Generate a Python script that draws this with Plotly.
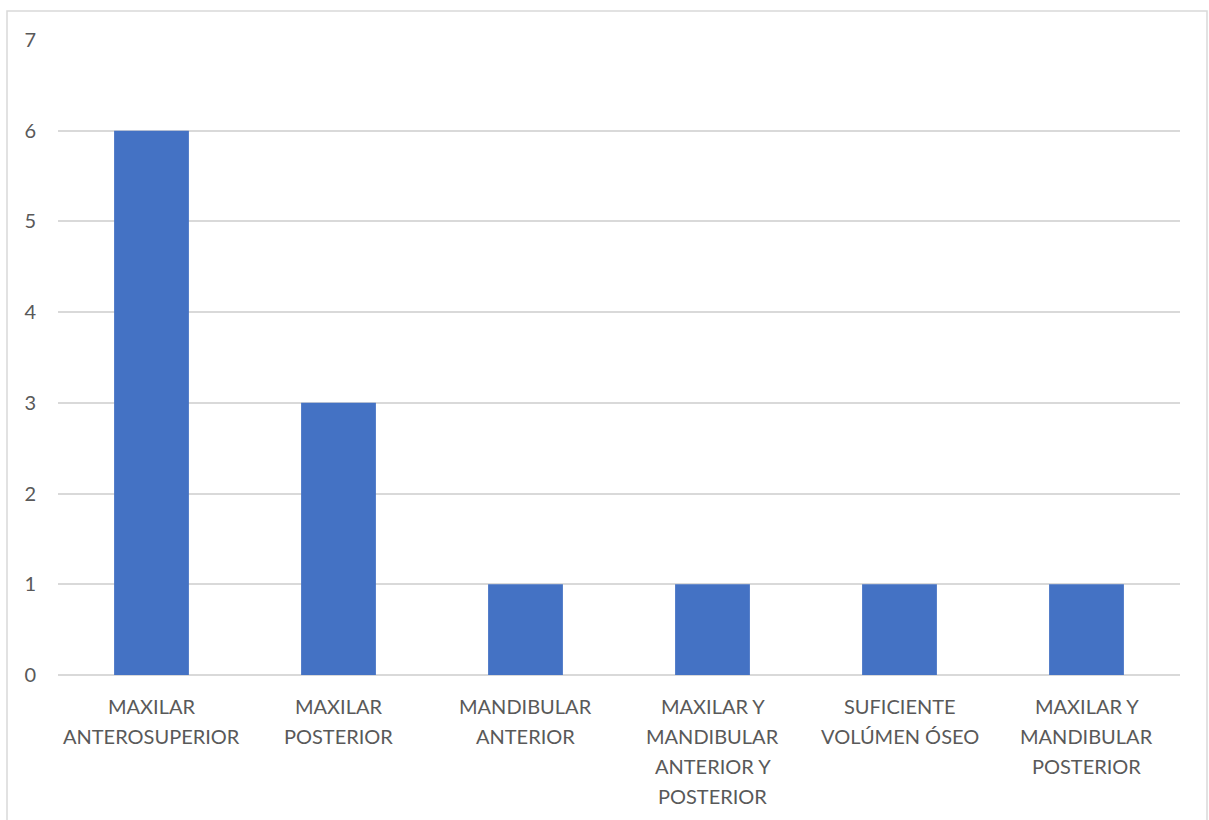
import plotly.graph_objects as go

categories = [
    "MAXILAR ANTEROSUPERIOR",
    "MAXILAR POSTERIOR",
    "MANDIBULAR ANTERIOR",
    "MAXILAR Y MANDIBULAR ANTERIOR Y POSTERIOR",
    "SUFICIENTE VOLÚMEN ÓSEO",
    "MAXILAR Y MANDIBULAR POSTERIOR",
]
# Wrapped lines shown under each bar
label_lines = [
    ["MAXILAR", "ANTEROSUPERIOR"],
    ["MAXILAR", "POSTERIOR"],
    ["MANDIBULAR", "ANTERIOR"],
    ["MAXILAR Y", "MANDIBULAR", "ANTERIOR Y", "POSTERIOR"],
    ["SUFICIENTE", "VOLÚMEN ÓSEO"],
    ["MAXILAR Y", "MANDIBULAR", "POSTERIOR"],
]
counts = [6, 3, 1, 1, 1, 1]
y_ticks = [0, 1, 2, 3, 4, 5, 6, 7]

W, H = 1209, 820
ml, mr, mt, mb = 58, 29, 40, 145
pw = W - ml - mr
ph = H - mt - mb

TEXT = "#595959"
GRID = "#d9d9d9"
FONT = "Lato, 'Open Sans', sans-serif"

fig = go.Figure(
    go.Bar(
        x=categories,
        y=counts,
        marker=dict(color="#4472C4", line=dict(width=0)),
        hoverinfo="x+y",
    )
)

# Category labels, one annotation per line for Office-like line spacing
annotations = []
for cat, lines in zip(categories, label_lines):
    for i, line in enumerate(lines):
        annotations.append(
            dict(
                x=cat,
                xref="x",
                y=0,
                yref="paper",
                yanchor="middle",
                xanchor="center",
                yshift=-(31 + 30 * i),
                text=line,
                showarrow=False,
                font=dict(family=FONT, size=20, color=TEXT),
            )
        )

fig.update_layout(
    width=W,
    height=H,
    margin=dict(l=ml, r=mr, t=mt, b=mb),
    paper_bgcolor="white",
    plot_bgcolor="white",
    bargap=0.6,
    showlegend=False,
    font=dict(family=FONT, color=TEXT),
    annotations=annotations,
    shapes=[
        dict(
            type="rect",
            xref="paper",
            yref="paper",
            x0=(7 - ml) / pw,
            x1=(1207 - ml) / pw,
            y0=-(900 - mt - ph) / ph,
            y1=1 + (mt - 11) / ph,
            line=dict(color=GRID, width=1.5),
            fillcolor="rgba(0,0,0,0)",
            layer="below",
        )
    ],
)

fig.update_xaxes(
    showgrid=False,
    showline=False,
    ticks="",
    showticklabels=False,
)

fig.update_yaxes(
    range=[0, 7],
    tickvals=y_ticks,
    showgrid=True,
    gridcolor=GRID,
    gridwidth=1.5,
    zeroline=True,
    zerolinecolor=GRID,
    zerolinewidth=1.5,
    showline=False,
    ticks="",
    tickfont=dict(size=20, color=TEXT),
    ticklabelstandoff=21,
)

fig.write_html("out.html")
